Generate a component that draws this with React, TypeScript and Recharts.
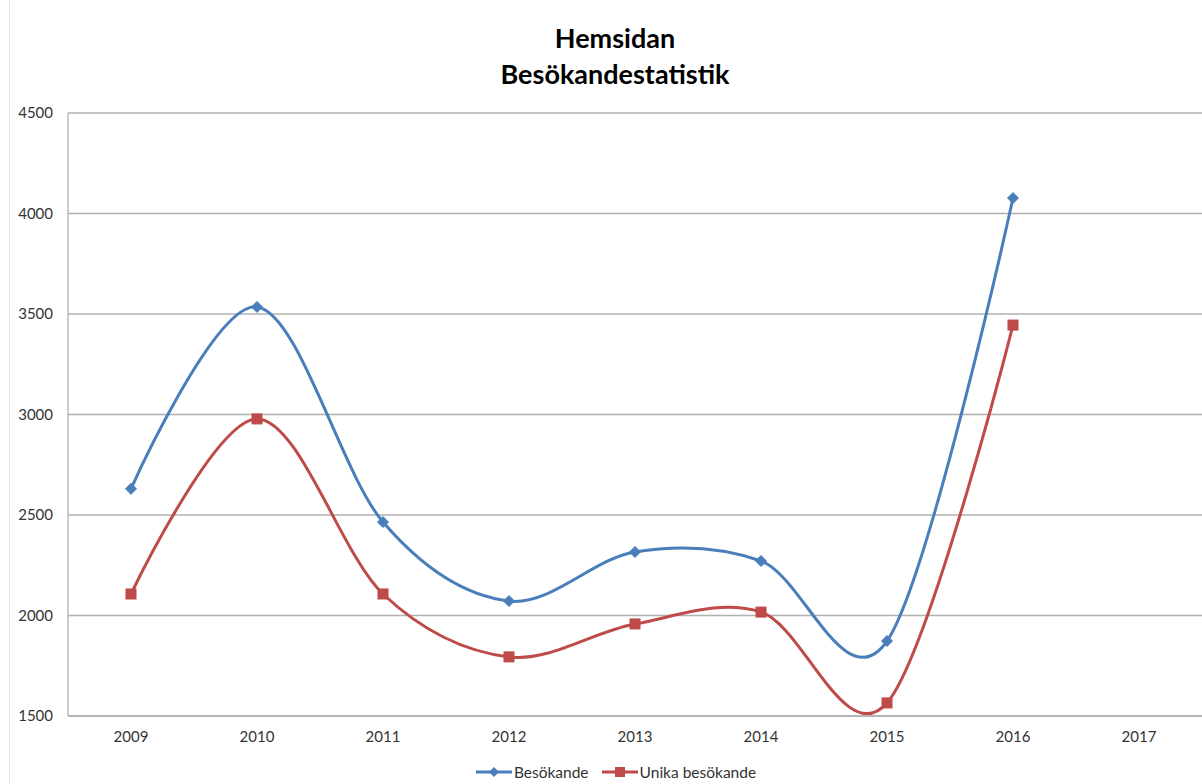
import React from 'react';
import { LineChart, Line, XAxis, YAxis, CartesianGrid } from 'recharts';

const years = ['2009', '2010', '2011', '2012', '2013', '2014', '2015', '2016', '2017'];
const besokande = [2630, 3535, 2465, 2072, 2316, 2271, 1873, 4077, null];
const unika = [2107, 2978, 2107, 1794, 1958, 2017, 1565, 3445, null];
const yTicks = [1500, 2000, 2500, 3000, 3500, 4000, 4500];

const BLUE = '#4A7EBB';
const RED = '#BE4B48';
const FONT = 'Lato, "Open Sans", sans-serif';

const data = years.map((year, i) => ({ year, besokande: besokande[i], unika: unika[i] }));

// Excel-style smoothing (cardinal spline, tension 0)
class Cardinal {
  _context: any;
  _k = 1 / 6;
  _x0 = NaN; _x1 = NaN; _x2 = NaN;
  _y0 = NaN; _y1 = NaN; _y2 = NaN;
  _point = 0;
  _line: number = NaN;
  constructor(context: any) {
    this._context = context;
  }
  areaStart() { this._line = 0; }
  areaEnd() { this._line = NaN; }
  lineStart() {
    this._x0 = this._x1 = this._x2 = this._y0 = this._y1 = this._y2 = NaN;
    this._point = 0;
  }
  lineEnd() {
    switch (this._point) {
      case 2: this._context.lineTo(this._x2, this._y2); break;
      case 3: this.seg(this._x1, this._y1); break;
    }
    if (this._line || (this._line !== 0 && this._point === 1)) this._context.closePath();
    this._line = 1 - this._line;
  }
  seg(x: number, y: number) {
    this._context.bezierCurveTo(
      this._x1 + this._k * (this._x2 - this._x0),
      this._y1 + this._k * (this._y2 - this._y0),
      this._x2 + this._k * (this._x1 - x),
      this._y2 + this._k * (this._y1 - y),
      this._x2,
      this._y2
    );
  }
  point(x: number, y: number) {
    x = +x; y = +y;
    switch (this._point) {
      case 0: this._point = 1; this._line ? this._context.lineTo(x, y) : this._context.moveTo(x, y); break;
      case 1: this._point = 2; this._x1 = x; this._y1 = y; break;
      case 2: this._point = 3; this.seg(x, y); break;
      default: this.seg(x, y); break;
    }
    this._x0 = this._x1; this._x1 = this._x2; this._x2 = x;
    this._y0 = this._y1; this._y1 = this._y2; this._y2 = y;
  }
}
const smooth = (context: any) => new Cardinal(context);

const Diamond = (props: any) => {
  const { cx, cy, value } = props;
  if (value == null || cx == null) return <g />;
  const r = 5.5;
  return <path d={`M${cx},${cy - r}L${cx + r},${cy}L${cx},${cy + r}L${cx - r},${cy}Z`} fill={BLUE} stroke={BLUE} />;
};

const Square = (props: any) => {
  const { cx, cy, value } = props;
  if (value == null || cx == null) return <g />;
  const s = 5;
  return <rect x={cx - s} y={cy - s} width={s * 2} height={s * 2} fill={RED} stroke={RED} />;
};

function LegendItem({ color, label, marker }: { color: string; label: string; marker: 'diamond' | 'square' }) {
  return (
    <div style={{ display: 'flex', alignItems: 'center', gap: 2 }}>
      <svg width={36} height={14}>
        <line x1={0} y1={7} x2={36} y2={7} stroke={color} strokeWidth={3} />
        {marker === 'diamond' ? (
          <path d="M18,2L23,7L18,12L13,7Z" fill={color} />
        ) : (
          <rect x={13} y={2} width={10} height={10} fill={color} />
        )}
      </svg>
      <span>{label}</span>
    </div>
  );
}

export default function App() {
  return (
    <div style={{ position: 'absolute', left: 0, top: 0, width: 1202, height: 784, background: '#fff', fontFamily: FONT, overflow: 'hidden' }}>
      <div style={{ position: 'absolute', left: 9, top: 0, width: 1, height: 784, background: '#e6e6e6' }} />
      <div style={{ position: 'absolute', left: 0, top: 20, width: 1230, textAlign: 'center', fontWeight: 700, fontSize: 27, lineHeight: '36px', color: '#000' }}>
        <div>Hemsidan</div>
        <div>Besökandestatistik</div>
      </div>
      <div style={{ position: 'absolute', left: 0, top: 0 }}>
        <LineChart width={1202} height={784} data={data} margin={{ top: 113, right: 0, bottom: 38, left: 8 }}>
          <CartesianGrid vertical={false} stroke="#b0b0b0" strokeWidth={1.3} />
          <XAxis
            dataKey="year"
            height={30}
            padding={{ left: 63, right: 63 }}
            axisLine={{ stroke: '#b0b0b0', strokeWidth: 1.3 }}
            tickLine={false}
            tickMargin={9}
            tick={{ fill: '#333', fontSize: 15, fontFamily: FONT }}
          />
          <YAxis
            width={60}
            domain={[1500, 4500]}
            ticks={yTicks}
            interval={0}
            axisLine={{ stroke: '#b0b0b0', strokeWidth: 1.3 }}
            tickLine={false}
            tickMargin={9}
            tick={{ fill: '#333', fontSize: 15, fontFamily: FONT }}
          />
          <Line
            dataKey="besokande"
            name="Besökande"
            type={smooth as any}
            stroke={BLUE}
            strokeWidth={3}
            dot={<Diamond />}
            activeDot={false}
            isAnimationActive={false}
          />
          <Line
            dataKey="unika"
            name="Unika besökande"
            type={smooth as any}
            stroke={RED}
            strokeWidth={3}
            dot={<Square />}
            activeDot={false}
            isAnimationActive={false}
          />
        </LineChart>
      </div>
      <div style={{ position: 'absolute', left: 0, top: 763, width: 1232, display: 'flex', justifyContent: 'center', gap: 13, fontSize: 15.5, color: '#333' }}>
        <LegendItem color={BLUE} label="Besökande" marker="diamond" />
        <LegendItem color={RED} label="Unika besökande" marker="square" />
      </div>
    </div>
  );
}
